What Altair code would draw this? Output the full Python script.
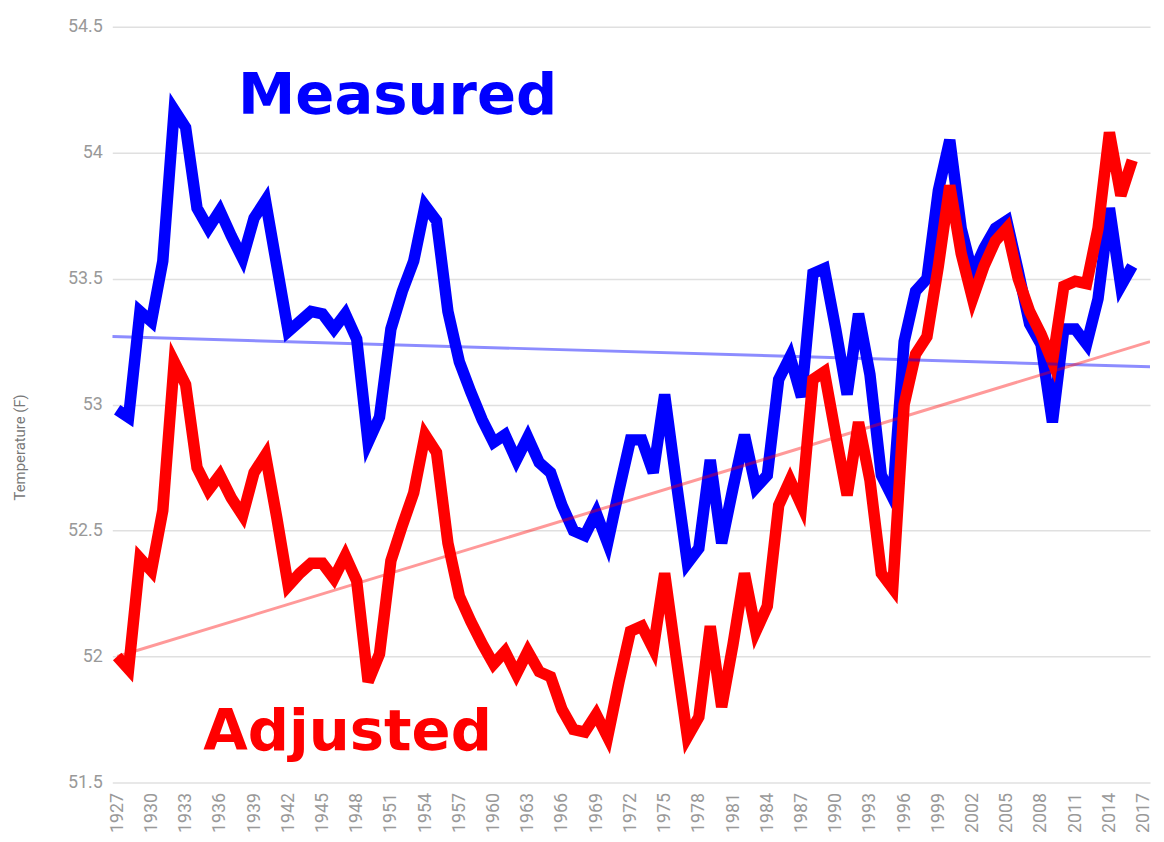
import altair as alt
import pandas as pd

# ---- data ----
years = list(range(1927, 2017))

measured = [
    52.98, 52.95, 53.37, 53.33, 53.57, 54.17, 54.10, 53.78, 53.70, 53.77,
    53.67, 53.58, 53.74, 53.81, 53.55, 53.29, 53.33, 53.37, 53.36, 53.30,
    53.36, 53.26, 52.85, 52.95, 53.30, 53.45, 53.57, 53.79, 53.73, 53.37,
    53.17, 53.05, 52.94, 52.85, 52.88, 52.78, 52.87, 52.77, 52.73, 52.60,
    52.50, 52.48, 52.57, 52.45, 52.66, 52.86, 52.86, 52.73, 53.04, 52.70,
    52.37, 52.43, 52.78, 52.45, 52.67, 52.88, 52.67, 52.72, 53.10, 53.19,
    53.03, 53.52, 53.54, 53.30, 53.04, 53.36, 53.12, 52.72, 52.63, 53.25,
    53.45, 53.50, 53.85, 54.05, 53.70, 53.52, 53.62, 53.70, 53.73, 53.53,
    53.32, 53.24, 52.93, 53.30, 53.30, 53.24, 53.42, 53.78, 53.47, 53.55,
]

adjusted = [
    52.00, 51.95, 52.39, 52.34, 52.58, 53.17, 53.08, 52.75, 52.66, 52.72,
    52.63, 52.56, 52.73, 52.80, 52.55, 52.28, 52.33, 52.37, 52.37, 52.31,
    52.40, 52.30, 51.90, 52.01, 52.38, 52.52, 52.65, 52.88, 52.81, 52.45,
    52.24, 52.14, 52.05, 51.97, 52.02, 51.93, 52.02, 51.94, 51.92, 51.79,
    51.71, 51.70, 51.77, 51.68, 51.90, 52.10, 52.12, 52.03, 52.33, 52.00,
    51.68, 51.76, 52.12, 51.80, 52.05, 52.33, 52.10, 52.20, 52.60, 52.70,
    52.60, 53.10, 53.13, 52.88, 52.64, 52.93, 52.70, 52.33, 52.27, 53.00,
    53.20, 53.27, 53.55, 53.87, 53.60, 53.42, 53.55, 53.65, 53.70, 53.50,
    53.37, 53.28, 53.17, 53.47, 53.49, 53.48, 53.70, 54.08, 53.83, 53.97,
]

trend_measured_years = [1926.57, 2017.56]
trend_measured = [53.27, 53.15]
trend_adjusted_years = [1927, 2017.56]
trend_adjusted = [52.00, 53.25]

label_text = ["Measured", "Adjusted"]
label_year = [1937.6, 1934.55]
label_temp = [54.153, 51.63]
label_color = ["#0000ff", "#ff0000"]

x_ticks = list(range(1927, 2018, 3))
y_ticks = [51.5, 52, 52.5, 53, 53.5, 54, 54.5]

# ---- tables ----
df_meas = pd.DataFrame({"year": years, "temp": measured})
df_adj = pd.DataFrame({"year": years, "temp": adjusted})
df_tm = pd.DataFrame({"year": trend_measured_years, "temp": trend_measured})
df_ta = pd.DataFrame({"year": trend_adjusted_years, "temp": trend_adjusted})
df_lab = pd.DataFrame({"label": label_text, "year": label_year,
                       "temp": label_temp, "color": label_color})

xscale = alt.Scale(domain=[1926.57, 2017.56], nice=False, zero=False)
yscale = alt.Scale(domain=[51.5, 54.5], nice=False, zero=False)

xaxis = alt.Axis(values=x_ticks, format="d", labelAngle=270, labelAlign="right",
                 labelBaseline="middle", labelPadding=10, ticks=False, domain=False,
                 grid=False, title=None, labelFont="Roboto", labelFontSize=18,
                 labelColor="#999999", labelOverlap=False, labelBound=False,
                 labelFlush=False)
yaxis = alt.Axis(values=y_ticks, format=".1~f", ticks=False, domain=False, grid=True,
                 gridColor="#e0e0e0", gridWidth=1.5, labelPadding=10,
                 labelFont="Roboto", labelFontSize=18, labelColor="#999999",
                 title="Temperature (F)", titleFont="Roboto", titleFontSize=15,
                 titleFontWeight="normal", titleColor="#777777", titleX=-93,
                 titleY=423, titleAlign="center", titleBaseline="middle",
                 labelFlush=False)

X = alt.X("year:Q", scale=xscale, axis=xaxis)
Y = alt.Y("temp:Q", scale=yscale, axis=yaxis)

blue = alt.Chart(df_meas).mark_line(color="#0000ff", strokeWidth=11.5,
                                    strokeJoin="miter").encode(x=X, y=Y)
red = alt.Chart(df_adj).mark_line(color="#ff0000", strokeWidth=11.5,
                                  strokeJoin="miter").encode(x=X, y=Y)
tblue = alt.Chart(df_tm).mark_line(color="#0000ff", strokeWidth=3, opacity=0.45,
                                   clip=True).encode(x=X, y=Y)
tred = alt.Chart(df_ta).mark_line(color="#ff0000", strokeWidth=3, opacity=0.4,
                                  clip=True).encode(x=X, y=Y)
labels = alt.Chart(df_lab).mark_text(align="left", baseline="alphabetic",
                                     font="DejaVu Sans", fontWeight="bold",
                                     fontSize=58).encode(
    x=X, y=Y, text="label:N", color=alt.Color("color:N", scale=None))

chart = alt.layer(blue, red, tblue, tred, labels).properties(
    width=1045, height=761, autosize="none",
    padding={"left": 105, "top": 16, "right": 6, "bottom": 47},
    background="white",
).configure_view(stroke=None)

chart.save("out.html", embed_options={"renderer": "svg", "actions": False})
